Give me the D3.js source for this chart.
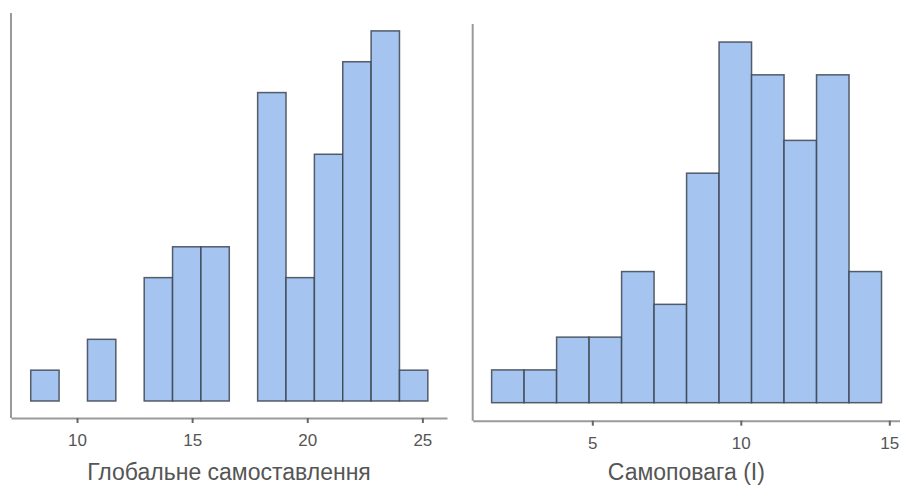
<!DOCTYPE html>
<html>
<head>
<meta charset="utf-8">
<script src="https://cdn.jsdelivr.net/npm/d3@7"></script>
<style>
  body { margin: 0; background: #fff; }
  svg { display: block; }
  .tick text { font-family: "Liberation Sans", Arial, sans-serif; }
</style>
</head>
<body>
<svg width="900" height="486"></svg>
<script>
// left histogram: Глобальне самоставлення
const leftBinStart = 7.99, leftBinWidth = 1.232;
const leftCounts = [1, 0, 2, 0, 4, 5, 5, 0, 10, 4, 8, 11, 12, 1];
const leftTicks = [10, 15, 20, 25];
const leftTitle = "Глобальне самоставлення";

// right histogram: Самоповага (І)
const rightBinStart = 1.61, rightBinWidth = 1.094;
const rightCounts = [1, 1, 2, 2, 4, 3, 7, 11, 10, 8, 10, 4];
const rightTicks = [5, 10, 15];
const rightTitle = "Самоповага (І)";

const svg = d3.select("svg");

const barFill = "#a6c4f0", barStroke = "#3c4450";
const axisColor = "#9a9a9a", textColor = "#555";

function histogram(opt) {
  const g = svg.append("g");
  const bins = opt.counts.map((c, i) => ({
    x0: opt.start + i * opt.width,
    x1: opt.start + (i + 1) * opt.width,
    n: c
  }));

  const x = d3.scaleLinear().domain(opt.xDomain).range(opt.xRange);
  const y = d3.scaleLinear().domain([0, opt.yMax]).range([opt.base, opt.top]);

  g.selectAll("rect")
    .data(bins.filter(d => d.n > 0))
    .join("rect")
    .attr("x", d => x(d.x0))
    .attr("y", d => y(d.n))
    .attr("width", d => x(d.x1) - x(d.x0))
    .attr("height", d => y(0) - y(d.n))
    .attr("fill", barFill)
    .attr("stroke", barStroke)
    .attr("stroke-opacity", 0.85)
    .attr("stroke-width", 1.5);

  // y axis line, no ticks
  g.append("line")
    .attr("x1", opt.xRange[0]).attr("x2", opt.xRange[0])
    .attr("y1", opt.top).attr("y2", opt.axisY)
    .attr("stroke", axisColor)
    .attr("stroke-width", 2);

  const ax = g.append("g")
    .attr("transform", `translate(0,${opt.axisY})`)
    .call(d3.axisBottom(x).tickValues(opt.ticks).tickSize(5).tickSizeOuter(0).tickPadding(11));
  ax.select(".domain").attr("stroke", axisColor).attr("stroke-width", 2);
  ax.selectAll(".tick line").attr("stroke", "#666").attr("stroke-width", 2);
  ax.selectAll(".tick text")
    .attr("fill", textColor)
    .attr("font-size", "17px");

  g.append("text")
    .attr("x", (opt.xRange[0] + opt.xRange[1]) / 2)
    .attr("y", 480)
    .attr("text-anchor", "middle")
    .attr("font-family", "Liberation Sans, Arial, sans-serif")
    .attr("font-size", "23px")
    .attr("fill", textColor)
    .text(opt.title);
}

histogram({
  start: leftBinStart, width: leftBinWidth, counts: leftCounts,
  ticks: leftTicks, title: leftTitle,
  xDomain: [7.133, 26.07], xRange: [11, 447],
  yMax: 12.58, base: 401, top: 13, axisY: 418
});

histogram({
  start: rightBinStart, width: rightBinWidth, counts: rightCounts,
  ticks: rightTicks, title: rightTitle,
  xDomain: [0.973, 15.36], xRange: [472.7, 900],
  yMax: 11.55, base: 402.7, top: 24, axisY: 420.7
});
</script>
</body>
</html>
